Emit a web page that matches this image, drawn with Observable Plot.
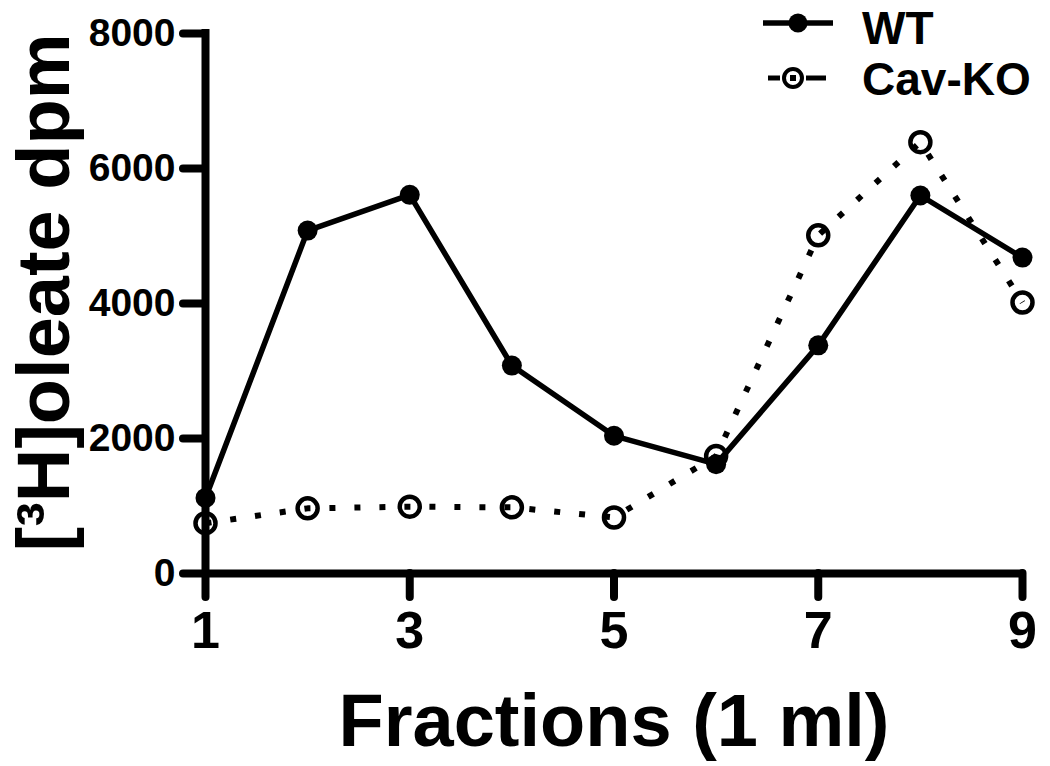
<!DOCTYPE html>
<html>
<head>
<meta charset="utf-8">
<script src="https://cdn.jsdelivr.net/npm/d3@7"></script>
<script src="https://cdn.jsdelivr.net/npm/@observablehq/plot@0.6"></script>
<style>
  html, body { margin: 0; padding: 0; background: #fff; }
  #chart svg { display: block; }
</style>
</head>
<body>
<div id="chart"></div>
<script>
const fractions = [1, 2, 3, 4, 5, 6, 7, 8, 9];
const wtValues = [1120, 5080, 5610, 3080, 2040, 1620, 3380, 5600, 4680];
const koValues = [745, 965, 990, 980, 830, 1740, 5010, 6390, 4015];
const xTicks = [1, 3, 5, 7, 9];
const yTicks = [0, 2000, 4000, 6000, 8000];
const seriesNames = ["WT", "Cav-KO"];
const xTitle = "Fractions (1 ml)";
const yTitle = "[³H]oleate dpm";

const wt = fractions.map((f, i) => ({x: f, y: wtValues[i]}));
const ko = fractions.map((f, i) => ({x: f, y: koValues[i]}));

const font = "'Liberation Sans', Arial, Helvetica, sans-serif";

const plot = Plot.plot({
  width: 1050,
  height: 766,
  marginLeft: 205,
  marginRight: 28,
  marginTop: 33,
  marginBottom: 193,
  style: {fontFamily: font, fontWeight: "bold", color: "#000", background: "#fff"},
  x: {domain: [1, 9]},
  y: {domain: [0, 8000]},
  marks: [
    Plot.axisY({ticks: yTicks, tickSize: 22, tickPadding: 8, tickFormat: d => String(d), fontSize: 39, fontWeight: "bold", strokeWidth: 8, strokeLinecap: "round", label: null}),
    Plot.axisX({ticks: xTicks, tickSize: 24, tickPadding: 14, tickFormat: d => String(d), fontSize: 52, fontWeight: "bold", strokeWidth: 8, strokeLinecap: "round", label: null}),
    Plot.ruleX([1], {y1: 0, y2: 8000, strokeWidth: 8, strokeLinecap: "square"}),
    Plot.ruleY([0], {x1: 1, x2: 9, strokeWidth: 8, strokeLinecap: "round"}),
    Plot.line(ko, {x: "x", y: "y", stroke: "#000", strokeWidth: 6, strokeDasharray: "6,19", strokeLinecap: "butt"}),
    Plot.line(wt, {x: "x", y: "y", stroke: "#000", strokeWidth: 5.5}),
    Plot.dot(wt, {x: "x", y: "y", r: 10, fill: "#000", stroke: "none"}),
    Plot.dot(ko, {x: "x", y: "y", r: 10, fill: "none", stroke: "#000", strokeWidth: 4.5}),
    Plot.text([xTitle], {frameAnchor: "bottom", dy: 149, lineAnchor: "middle", textAnchor: "middle", fontSize: 74, fontWeight: "bold", fill: "#000"}),
    Plot.text([yTitle], {frameAnchor: "left", dx: -160, dy: -11, rotate: -90, lineAnchor: "middle", textAnchor: "middle", fontSize: 74, fontWeight: "bold", fill: "#000"})
  ]
});

// Legend (top-right)
const svg = d3.select(plot);
const lg = svg.append("g").attr("font-family", font).attr("font-weight", "bold").attr("text-anchor", "start");
const r0 = lg.append("g");
r0.append("line").attr("x1", 763).attr("x2", 833).attr("y1", 23).attr("y2", 23).attr("stroke", "#000").attr("stroke-width", 5.5);
r0.append("circle").attr("cx", 798).attr("cy", 23).attr("r", 9.5).attr("fill", "#000");
r0.append("text").attr("x", 862).attr("y", 44).attr("font-size", 46).attr("text-anchor", "start").text(seriesNames[0]);
const r1 = lg.append("g");
r1.append("line").attr("x1", 768).attr("x2", 780).attr("y1", 78).attr("y2", 78).attr("stroke", "#000").attr("stroke-width", 5);
r1.append("line").attr("x1", 806).attr("x2", 826).attr("y1", 78).attr("y2", 78).attr("stroke", "#000").attr("stroke-width", 5);
r1.append("circle").attr("cx", 793).attr("cy", 78).attr("r", 9).attr("fill", "none").attr("stroke", "#000").attr("stroke-width", 4);
r1.append("rect").attr("x", 790).attr("y", 75).attr("width", 6).attr("height", 6).attr("fill", "#000");
r1.append("text").attr("x", 862).attr("y", 95).attr("font-size", 46).attr("text-anchor", "start").text(seriesNames[1]);

document.getElementById("chart").appendChild(plot);
</script>
</body>
</html>
